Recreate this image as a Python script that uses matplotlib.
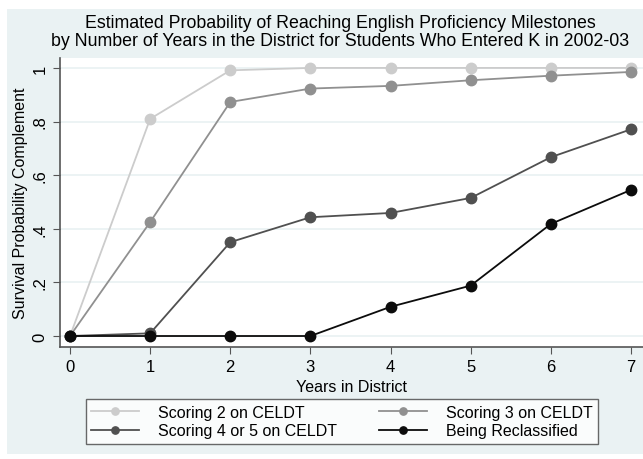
import matplotlib
matplotlib.use('Agg')
from matplotlib import pyplot as plt
from matplotlib.patches import Rectangle

plt.rcParams['font.family'] = ['Liberation Sans', 'DejaVu Sans']

years = [0, 1, 2, 3, 4, 5, 6, 7]
celdt2 = [0, 0.81, 0.991, 1.0, 1.0, 1.0, 1.0, 1.0]
celdt3 = [0, 0.425, 0.873, 0.923, 0.933, 0.954, 0.971, 0.985]
celdt45 = [0, 0.01, 0.35, 0.443, 0.459, 0.515, 0.667, 0.771]
reclass = [0, 0, 0, 0, 0.109, 0.188, 0.418, 0.545]

series = [('Scoring 2 on CELDT', celdt2, '#cccccc'),
          ('Scoring 3 on CELDT', celdt3, '#909090'),
          ('Scoring 4 or 5 on CELDT', celdt45, '#505050'),
          ('Being Reclassified', reclass, '#0c0c0c')]

bg = '#eaf2f3'
W, H = 643, 460
fig = plt.figure(figsize=(W/100, H/100), dpi=100, facecolor='white')
fig.patches.append(Rectangle((7/W, 1-455/H), 636/W, 445/H, transform=fig.transFigure,
                             facecolor=bg, edgecolor='none', zorder=-10))

ax = fig.add_axes([60/W, 1-348/H, 583/W, 289/H])
ax.set_facecolor('white')
lines = []
for name, vals, col in series:
    l, = ax.plot(years, vals, '-o', color=col, lw=1.3, ms=7.5, label=name, clip_on=False, zorder=3)
    lines.append(l)

ax.set_xlim(-0.125, 7.15)
ax.set_ylim(-0.041, 1.037)
ax.set_xticks(years)
ax.set_yticks([0, 0.2, 0.4, 0.6, 0.8, 1.0])
ax.set_yticklabels(['0', '.2', '.4', '.6', '.8', '1'], rotation=90, va='center')
ax.grid(axis='y', color=bg, lw=1.3)
ax.set_axisbelow(True)
for s in ['top', 'right']:
    ax.spines[s].set_visible(False)
for s in ['left', 'bottom']:
    ax.spines[s].set_color('#555555')
    ax.spines[s].set_linewidth(1.2)
ax.tick_params(length=5, color='#555555', labelsize=12, pad=4)

ax.set_xlabel('Years in District', fontsize=11.5, labelpad=3)
ax.set_ylabel('Survival Probability Complement', fontsize=11.5, labelpad=3)
fig.text(340/W, 1-15/H,
         'Estimated Probability of Reaching English Proficiency Milestones\n'
         'by Number of Years in the District for Students Who Entered K in 2002-03',
         ha='center', va='top', fontsize=12.8, linespacing=1.05)

# matplotlib fills legend columns first, so reorder to get row-wise layout
order = [0, 2, 1, 3]
leg = fig.legend([lines[i] for i in order], [series[i][0] for i in order],
                 loc='center', bbox_to_anchor=(342/W, 1-422.5/H), ncol=2,
                 fontsize=11.5, frameon=True, fancybox=False, handlelength=3.0,
                 handletextpad=1.2, columnspacing=2.6, markerscale=0.7,
                 labelspacing=0.2, borderpad=0.35, borderaxespad=0)
leg.get_frame().set_edgecolor('#444444')
leg.get_frame().set_linewidth(1)

fig.savefig('out.png', dpi=100, facecolor='white')
